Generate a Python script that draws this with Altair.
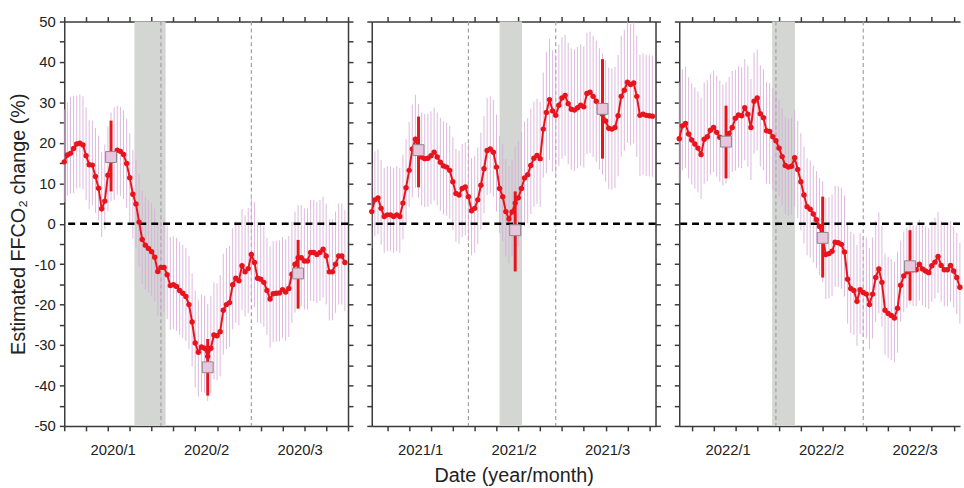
import altair as alt
import pandas as pd

# ---------------- data ----------------
# daily estimated FFCO2 change (%), day 0 = 1 January
ffco2_2020 = [15.3, 17.0, 17.4, 18.6, 19.7, 19.9, 19.5, 16.8, 14.6, 14.5,
              11.7, 8.8, 3.7, 5.6, 12.0, 15.5, 16.8, 18.2, 17.9, 17.1,
              14.9, 11.4, 7.3, 4.9, 0.4, -3.9, -5.3, -6.1, -6.9, -8.3,
              -11.8, -10.8, -10.8, -12.6, -15.3, -15.1, -15.5, -16.5, -17.2, -18.0,
              -20.0, -24.3, -29.5, -31.8, -30.5, -30.8, -32.8, -30.8, -27.5, -27.7,
              -26.7, -21.4, -20.0, -19.5, -15.1, -13.5, -14.1, -10.4, -11.9, -11.1,
              -7.6, -9.6, -13.5, -13.7, -14.5, -16.5, -18.6, -17.3, -17.2, -17.1,
              -16.3, -16.9, -16.0, -12.5, -10.0, -8.4, -8.4, -9.2, -9.2, -7.1,
              -7.1, -7.6, -7.1, -6.3, -8.0, -11.9, -11.9, -10.0, -8.0, -8.0, -9.6]
err_up_2020 = [13, 13, 14, 13, 12, 12, 12, 12, 11, 11,
               12, 13, 14, 14, 12, 12, 12, 11, 11, 11,
               11, 11, 11, 11, 12, 12, 12, 12, 12, 12,
               12, 12, 12, 12, 12, 12, 12, 12, 12, 12,
               12, 12, 13, 13, 13, 13, 13, 13, 13, 13,
               14, 14, 14, 14, 14, 14, 14, 14, 14, 15,
               15, 15, 14, 14, 14, 13, 13, 13, 13, 13,
               13, 13, 13, 13, 13, 13, 13, 13, 13, 13,
               13, 13, 13, 13, 13, 13, 13, 13, 13, 13, 13]
err_dn_2020 = [10, 10, 10, 11, 11, 11, 11, 11, 11, 10,
               9, 8, 7, 7, 9, 10, 11, 11, 11, 11,
               11, 11, 11, 11, 11, 11, 11, 11, 11, 11,
               11, 11, 11, 11, 11, 11, 11, 11, 11, 11,
               11, 11, 11, 11, 11, 11, 11, 11, 11, 11,
               11, 11, 11, 11, 11, 11, 11, 11, 11, 11,
               11, 11, 11, 11, 11, 11, 12, 12, 12, 12,
               12, 12, 12, 12, 12, 12, 12, 12, 12, 12,
               12, 12, 12, 12, 12, 12, 12, 12, 12, 12, 12]

ffco2_2021 = [3.0, 5.9, 6.4, 3.8, 1.8, 2.2, 2.2, 1.8, 2.2, 1.8,
              5.1, 8.9, 13.2, 18.5, 20.9, 18.5, 16.5, 16.1, 16.2, 16.8,
              17.7, 16.5, 15.2, 14.3, 14.0, 13.2, 10.4, 7.5, 7.1, 8.7,
              9.1, 6.7, 3.2, 3.8, 5.9, 9.5, 13.6, 18.1, 18.5, 17.7,
              14.0, 8.7, 6.7, 3.0, 1.2, 2.9, 5.1, 6.4, 8.7, 11.3,
              12.1, 14.4, 16.2, 16.9, 16.1, 23.4, 27.5, 30.7, 27.9, 26.8,
              29.3, 31.1, 31.7, 29.7, 28.3, 28.1, 28.7, 29.3, 28.9, 32.2,
              32.5, 31.5, 30.3, 28.4, 27.1, 25.4, 23.6, 23.4, 23.8, 26.7,
              31.5, 33.0, 35.0, 34.4, 34.8, 31.5, 26.8, 27.1, 26.8, 26.7, 26.6]
err_up_2021 = [12, 12, 12, 12, 12, 12, 12, 12, 12, 12,
               12, 12, 12, 11, 11, 11, 11, 11, 11, 11,
               11, 11, 11, 11, 11, 11, 11, 11, 11, 11,
               11, 13, 13, 13, 13, 13, 13, 13, 13, 13,
               13, 13, 13, 13, 13, 13, 14, 14, 14, 14,
               14, 14, 14, 14, 14, 14, 15, 15, 15, 15,
               15, 15, 15, 15, 15, 15, 15, 15, 15, 15,
               15, 15, 15, 15, 15, 15, 15, 15, 15, 15,
               15, 15, 15, 15, 15, 15, 15, 15, 15, 15, 15]
err_dn_2021 = [9, 9, 9, 9, 9, 9, 9, 9, 9, 9,
               9, 9, 9, 12, 12, 12, 12, 12, 12, 12,
               12, 12, 12, 12, 12, 12, 12, 12, 12, 12,
               12, 11, 11, 11, 11, 11, 11, 11, 11, 11,
               11, 11, 11, 11, 11, 11, 12, 12, 12, 12,
               12, 12, 12, 12, 12, 12, 15, 15, 15, 15,
               15, 15, 15, 15, 15, 15, 15, 15, 15, 15,
               15, 15, 15, 15, 15, 15, 15, 15, 15, 15,
               15, 15, 15, 15, 15, 15, 15, 15, 15, 15, 15]

ffco2_2022 = [21.0, 24.2, 24.8, 22.2, 20.7, 19.7, 18.7, 17.1, 20.9, 21.5,
              23.1, 23.8, 22.6, 21.4, 20.4, 21.0, 22.3, 23.8, 26.1, 26.9,
              26.7, 28.7, 27.1, 23.8, 30.3, 31.1, 27.2, 26.2, 23.0, 22.8,
              21.5, 20.5, 18.7, 16.6, 14.4, 14.0, 14.2, 16.3, 13.4, 10.4,
              7.1, 4.2, 3.6, 2.4, 1.0, -0.7, -3.5, -7.6, -7.4, -6.8,
              -4.6, -4.7, -5.1, -7.0, -13.7, -16.0, -16.5, -19.2, -16.3, -17.0,
              -17.4, -20.0, -17.4, -13.3, -11.2, -14.5, -21.4, -22.2, -22.7, -23.3,
              -20.9, -15.2, -12.9, -11.9, -11.0, -11.4, -11.4, -10.0, -11.2, -11.7,
              -12.1, -10.4, -9.5, -8.1, -10.3, -11.4, -11.4, -10.3, -11.7, -13.3, -15.7]
err_up_2022 = [14, 14, 14, 14, 14, 14, 14, 14, 14, 14,
               14, 14, 14, 14, 14, 14, 14, 14, 12, 12,
               12, 12, 12, 12, 12, 12, 12, 12, 12, 12,
               12, 12, 12, 12, 12, 12, 12, 12, 12, 12,
               12, 12, 12, 12, 12, 12, 14, 14, 14, 14,
               14, 14, 14, 14, 14, 14, 14, 14, 14, 14,
               14, 14, 14, 14, 14, 14, 14, 14, 14, 14,
               14, 11, 11, 11, 11, 11, 11, 11, 11, 11,
               11, 11, 11, 11, 11, 11, 11, 11, 11, 11, 11]
err_dn_2022 = [11, 11, 11, 11, 11, 11, 11, 11, 11, 11,
               11, 11, 11, 11, 11, 11, 11, 11, 13, 13,
               13, 13, 13, 13, 13, 13, 13, 13, 13, 13,
               13, 12, 12, 12, 12, 12, 12, 12, 12, 12,
               12, 12, 12, 12, 12, 12, 11, 11, 11, 11,
               11, 11, 11, 11, 11, 11, 11, 11, 11, 11,
               11, 11, 11, 11, 11, 11, 11, 11, 11, 11,
               11, 9, 9, 9, 9, 9, 9, 9, 9, 9,
               9, 9, 9, 9, 9, 9, 9, 9, 9, 9, 9]

# monthly means (plotted mid-month) with their uncertainty
month_day_2020 = [15, 46, 75]
month_val_2020 = [16.5, -35.5, -12.3]
month_lo_2020 = [8.0, -42.5, -21.0]
month_hi_2020 = [25.5, -28.5, -4.0]

month_day_2021 = [15, 46, 74]
month_val_2021 = [18.2, -1.6, 28.4]
month_lo_2021 = [9.0, -11.8, 16.1]
month_hi_2021 = [26.5, 8.0, 40.7]

month_day_2022 = [15, 46, 74]
month_val_2022 = [20.3, -3.5, -10.5]
month_lo_2022 = [11.2, -13.3, -19.0]
month_hi_2022 = [29.2, 6.7, -1.6]

# Spring Festival holiday (shaded) and month boundaries (dashed), in days
holiday_2020 = [22.5, 32.5]
holiday_2021 = [41.0, 48.2]
holiday_2022 = [29.8, 37.1]
month_bounds_2020 = [31, 60]
month_bounds_2021 = [31, 59]
month_bounds_2022 = [31, 59]
first_wed_2020 = 0
first_wed_2021 = 5
first_wed_2022 = 4

month_labels_2020 = ["2020/1", "2020/2", "2020/3"]
month_labels_2021 = ["2021/1", "2021/2", "2021/3"]
month_labels_2022 = ["2022/1", "2022/2", "2022/3"]
label_pos = [15.5, 45.5, 75.5]

y_title = "Estimated FFCO\u2082 change (%)"
x_title = "Date (year/month)"

# ---------------- styling ----------------
RED = "#e8141c"
PINK = "#d6acd8"
BAND = "#d4d6d4"
AXC = "#3a3a3a"
FONT = "Liberation Sans"
H = 409
Y_TICKS = list(range(-50, 55, 5))


def make_panel(vals, up, dn, mday, mval, mlo, mhi, hol, bounds, first_tick,
               labels, show_y, show_xtitle, width, x_end, show_right):
    df = pd.DataFrame({
        "day": list(range(len(vals))),
        "v": vals,
        "lo": [a - b for a, b in zip(vals, dn)],
        "hi": [a + b for a, b in zip(vals, up)],
    })
    mdf = pd.DataFrame({"day": mday, "v": mval, "lo": mlo, "hi": mhi})
    hdf = pd.DataFrame({"s": [hol[0]], "e": [hol[1]]})
    bdf = pd.DataFrame({"d": bounds})
    zdf = pd.DataFrame({"z": [0]})

    xs = alt.Scale(domain=[0, x_end], nice=False, zero=False)
    ys = alt.Scale(domain=[-50, 50], nice=False, zero=False)
    week = [t for t in range(first_tick, 92, 7) if t <= x_end]
    lab_expr = " : ".join(
        f"datum.value == {p} ? '{t}'" for p, t in zip(label_pos, labels)
    ) + " : ''"

    x_bottom = alt.Axis(
        orient="bottom", values=week + label_pos, labelExpr=lab_expr,
        tickOpacity={"condition": {"test": "datum.value % 1 != 0", "value": 0}, "value": 1},
        labelOverlap=False, labelFlush=False, labelPadding=12, titlePadding=8, grid=False,
    )
    x_top = alt.Axis(orient="top", values=week, labels=False, grid=False)
    y_left = alt.Axis(
        orient="left", values=Y_TICKS, labels=show_y,
        labelExpr="datum.value % 10 == 0 ? '' + datum.value : ''",
        labelPadding=4, titlePadding=6, grid=False,
    )

    band = alt.Chart(hdf).mark_rect(color=BAND).encode(
        x=alt.X("s:Q", scale=xs, axis=None), x2="e:Q",
        y=alt.value(0), y2=alt.value(H))
    mlines = alt.Chart(bdf).mark_rule(color="#a0a0a0", strokeDash=[4, 3], strokeWidth=1.2).encode(
        x=alt.X("d:Q", scale=xs, axis=None))
    errs = alt.Chart(df).mark_rule(color=PINK, strokeWidth=1, opacity=0.85).encode(
        x=alt.X("day:Q", scale=xs, axis=x_bottom, title=x_title if show_xtitle else None),
        y=alt.Y("lo:Q", scale=ys, axis=y_left, title=y_title if show_y else None),
        y2="hi:Q")
    zero = alt.Chart(zdf).mark_rule(color="black", strokeDash=[7, 5], strokeWidth=2.5).encode(
        y=alt.Y("z:Q", scale=ys, axis=None))
    line = alt.Chart(df).mark_line(color=RED, strokeWidth=2).encode(
        x=alt.X("day:Q", scale=xs, axis=None), y=alt.Y("v:Q", scale=ys, axis=None))
    pts = alt.Chart(df).mark_circle(color=RED, size=30, opacity=1).encode(
        x=alt.X("day:Q", scale=xs, axis=None), y=alt.Y("v:Q", scale=ys, axis=None))
    mbar = alt.Chart(mdf).mark_rule(color=RED, strokeWidth=3).encode(
        x=alt.X("day:Q", scale=xs, axis=None), y=alt.Y("lo:Q", scale=ys, axis=None), y2="hi:Q")
    msq = alt.Chart(mdf).mark_square(size=121, fill="#e8c6de", stroke="#8a8a8a",
                                     strokeWidth=1, opacity=1).encode(
        x=alt.X("day:Q", scale=xs, axis=None), y=alt.Y("v:Q", scale=ys, axis=None))
    if show_right:
        y_frame = alt.Y("v:Q", scale=ys, title=None,
                        axis=alt.Axis(orient="right", values=Y_TICKS, labels=False, grid=False))
    else:
        y_frame = alt.Y("v:Q", scale=ys, axis=None)
    frame = alt.Chart(df).mark_point(opacity=0).encode(
        x=alt.X("day:Q", scale=xs, axis=x_top, title=None), y=y_frame)

    return alt.layer(band, mlines, errs, zero, line, pts, mbar, msq, frame).resolve_axis(
        x="independent", y="independent").properties(width=width, height=H)


p1 = make_panel(ffco2_2020, err_up_2020, err_dn_2020, month_day_2020, month_val_2020,
                month_lo_2020, month_hi_2020, holiday_2020, month_bounds_2020,
                first_wed_2020, month_labels_2020, True, False, 287, 91, True)
p2 = make_panel(ffco2_2021, err_up_2021, err_dn_2021, month_day_2021, month_val_2021,
                month_lo_2021, month_hi_2021, holiday_2021, month_bounds_2021,
                first_wed_2021, month_labels_2021, False, True, 287, 91, True)
# the right-most panel runs off the edge of the picture, as in the original
p3 = make_panel(ffco2_2022, err_up_2022, err_dn_2022, month_day_2022, month_val_2022,
                month_lo_2022, month_hi_2022, holiday_2022, month_bounds_2022,
                first_wed_2022, month_labels_2022, False, False, 284, 90.05, False)

chart = alt.hconcat(p1, p2, p3, spacing=12).properties(
    padding={"left": 8, "top": 12, "right": 0, "bottom": 0}
).configure_view(stroke=None).configure_axis(
    domainColor=AXC, domainWidth=1.5, tickColor=AXC, tickWidth=1.5, tickSize=5,
    labelFont=FONT, labelFontSize=15, labelColor="#222",
    titleFont=FONT, titleFontSize=20, titleFontWeight="normal", titleColor="#222",
)

chart.save("out.html", embed_options={"renderer": "svg", "actions": False})
